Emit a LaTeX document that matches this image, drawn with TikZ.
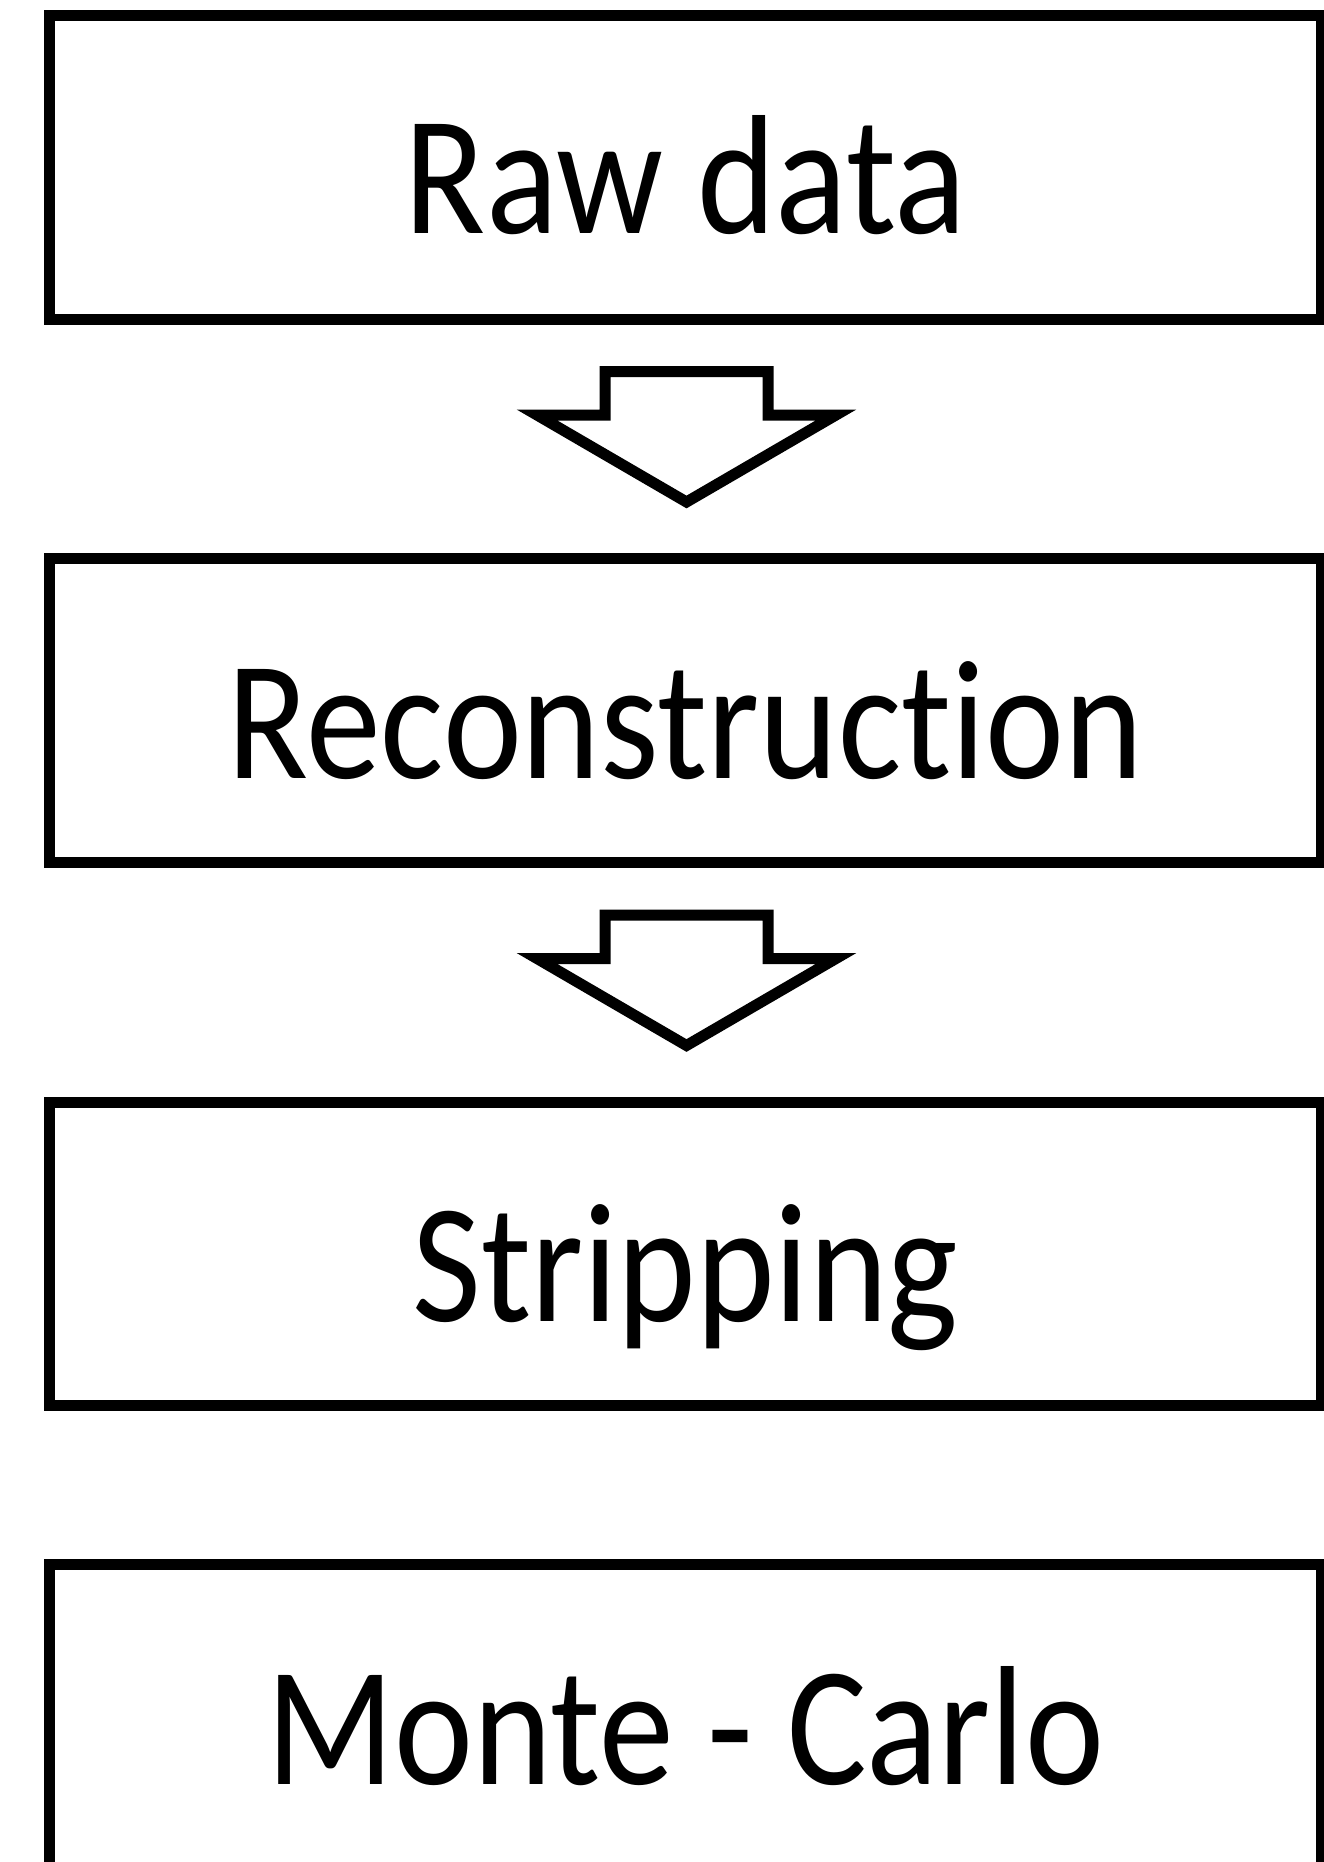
\documentclass[tikz,border=0pt]{standalone}
\usepackage{fontspec}
\setmainfont[Ligatures={NoCommon}]{Carlito}
\begin{document}
\begin{tikzpicture}[x=0.5pt,y=-0.5pt,
  box/.style={draw=black,line width=5.5pt,rectangle,inner sep=0pt,
    minimum width=636pt,minimum height=151.75pt},
  lbl/.style={anchor=base,inner sep=0pt,font=\fontsize{85}{90}\selectfont},
  blockarrow/.style={draw=black,line width=5.5pt,line join=miter,fill=white}]
\useasboundingbox (0,0) rectangle (1323,1862);
\node[box] (b1) at (685.5,167.25) {};
\node[box] (b2) at (685.5,710.25) {};
\node[box] (b3) at (685.5,1253.75) {};
\node[box] (b4) at (685.5,1716.25) {};
\node[lbl] (t1) at (685.5,234) {\scalebox{0.88}[1]{Raw data}};
\node[lbl] (t2) at (685.5,778) {\scalebox{0.88}[1]{Reconstruction}};
\node[lbl] (t3) at (685.5,1321) {\scalebox{0.88}[1]{Stripping}};
\node[lbl] (t4) at (685.5,1784) {\scalebox{0.88}[1]{Monte - Carlo}};
\draw[blockarrow] (605,371.5) -- (768,371.5) -- (768,415) -- (836,415) -- (686.5,502) -- (537,415) -- (605,415) -- cycle;
\draw[blockarrow] (605,915) -- (768,915) -- (768,958.5) -- (836,958.5) -- (686.5,1045.5) -- (537,958.5) -- (605,958.5) -- cycle;
\end{tikzpicture}
\end{document}
